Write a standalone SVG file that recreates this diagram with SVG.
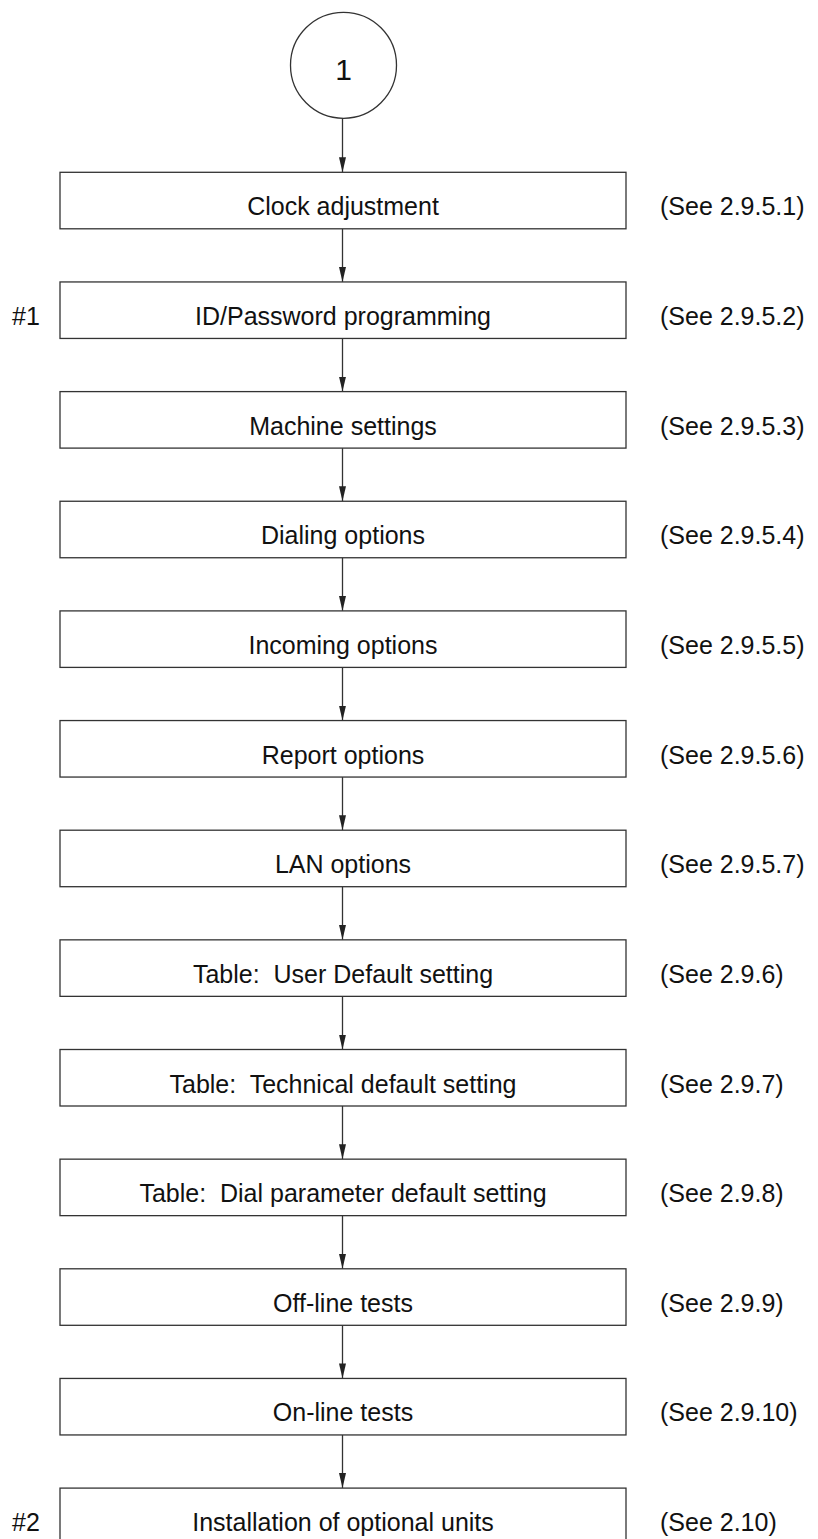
<svg xmlns="http://www.w3.org/2000/svg" width="818" height="1539" viewBox="0 0 818 1539">
<style>
.bx{fill:#fff;stroke:#333;stroke-width:1.3}
.t{font-family:"Liberation Sans",Arial,Helvetica,sans-serif;font-size:25px;fill:#111;white-space:pre}
.c{text-anchor:middle}
.ln{stroke:#333;stroke-width:1.3;fill:none}
</style>
<defs>
<marker id="ah" viewBox="0 0 15 7" refX="15" refY="3.5" markerWidth="15" markerHeight="7" markerUnits="userSpaceOnUse" orient="auto">
<path d="M0,0 L15,3.5 L0,7 z" fill="#222"/>
</marker>
</defs>
<rect width="818" height="1539" fill="#fff"/>
<g id="start">
<circle cx="343.5" cy="65.3" r="53" class="bx"/>
<text x="343.5" y="80" class="t c" style="font-size:30px">1</text>
</g>
<g id="connectors">
<line x1="342.5" y1="118.3" x2="342.5" y2="172.3" class="ln" marker-end="url(#ah)"/>
<line x1="342.5" y1="228.8" x2="342.5" y2="281.95" class="ln" marker-end="url(#ah)"/>
<line x1="342.5" y1="338.45" x2="342.5" y2="391.6" class="ln" marker-end="url(#ah)"/>
<line x1="342.5" y1="448.1" x2="342.5" y2="501.25" class="ln" marker-end="url(#ah)"/>
<line x1="342.5" y1="557.75" x2="342.5" y2="610.9" class="ln" marker-end="url(#ah)"/>
<line x1="342.5" y1="667.4" x2="342.5" y2="720.55" class="ln" marker-end="url(#ah)"/>
<line x1="342.5" y1="777.05" x2="342.5" y2="830.2" class="ln" marker-end="url(#ah)"/>
<line x1="342.5" y1="886.7" x2="342.5" y2="939.85" class="ln" marker-end="url(#ah)"/>
<line x1="342.5" y1="996.35" x2="342.5" y2="1049.5" class="ln" marker-end="url(#ah)"/>
<line x1="342.5" y1="1106" x2="342.5" y2="1159.15" class="ln" marker-end="url(#ah)"/>
<line x1="342.5" y1="1215.65" x2="342.5" y2="1268.8" class="ln" marker-end="url(#ah)"/>
<line x1="342.5" y1="1325.3" x2="342.5" y2="1378.45" class="ln" marker-end="url(#ah)"/>
<line x1="342.5" y1="1434.95" x2="342.5" y2="1488.1" class="ln" marker-end="url(#ah)"/>
</g>
<g id="n1"><rect x="60" y="172.3" width="566" height="56.5" class="bx"/><text x="343" y="215.3" class="t c">Clock adjustment</text><text x="660" y="215.3" class="t">(See 2.9.5.1)</text></g>
<g id="n2"><rect x="60" y="281.95" width="566" height="56.5" class="bx"/><text x="343" y="324.95" class="t c">ID/Password programming</text><text x="660" y="324.95" class="t">(See 2.9.5.2)</text><text x="12" y="324.95" class="t">#1</text></g>
<g id="n3"><rect x="60" y="391.6" width="566" height="56.5" class="bx"/><text x="343" y="434.6" class="t c">Machine settings</text><text x="660" y="434.6" class="t">(See 2.9.5.3)</text></g>
<g id="n4"><rect x="60" y="501.25" width="566" height="56.5" class="bx"/><text x="343" y="544.25" class="t c">Dialing options</text><text x="660" y="544.25" class="t">(See 2.9.5.4)</text></g>
<g id="n5"><rect x="60" y="610.9" width="566" height="56.5" class="bx"/><text x="343" y="653.9" class="t c">Incoming options</text><text x="660" y="653.9" class="t">(See 2.9.5.5)</text></g>
<g id="n6"><rect x="60" y="720.55" width="566" height="56.5" class="bx"/><text x="343" y="763.55" class="t c">Report options</text><text x="660" y="763.55" class="t">(See 2.9.5.6)</text></g>
<g id="n7"><rect x="60" y="830.2" width="566" height="56.5" class="bx"/><text x="343" y="873.2" class="t c">LAN options</text><text x="660" y="873.2" class="t">(See 2.9.5.7)</text></g>
<g id="n8"><rect x="60" y="939.85" width="566" height="56.5" class="bx"/><text x="343" y="982.85" class="t c" xml:space="preserve">Table:  User Default setting</text><text x="660" y="982.85" class="t">(See 2.9.6)</text></g>
<g id="n9"><rect x="60" y="1049.5" width="566" height="56.5" class="bx"/><text x="343" y="1092.5" class="t c" xml:space="preserve">Table:  Technical default setting</text><text x="660" y="1092.5" class="t">(See 2.9.7)</text></g>
<g id="n10"><rect x="60" y="1159.15" width="566" height="56.5" class="bx"/><text x="343" y="1202.15" class="t c" xml:space="preserve">Table:  Dial parameter default setting</text><text x="660" y="1202.15" class="t">(See 2.9.8)</text></g>
<g id="n11"><rect x="60" y="1268.8" width="566" height="56.5" class="bx"/><text x="343" y="1311.8" class="t c">Off-line tests</text><text x="660" y="1311.8" class="t">(See 2.9.9)</text></g>
<g id="n12"><rect x="60" y="1378.45" width="566" height="56.5" class="bx"/><text x="343" y="1421.45" class="t c">On-line tests</text><text x="660" y="1421.45" class="t">(See 2.9.10)</text></g>
<g id="n13"><rect x="60" y="1488.1" width="566" height="56.5" class="bx"/><text x="343" y="1531.1" class="t c">Installation of optional units</text><text x="660" y="1531.1" class="t">(See 2.10)</text><text x="12" y="1531.1" class="t">#2</text></g>
</svg>
